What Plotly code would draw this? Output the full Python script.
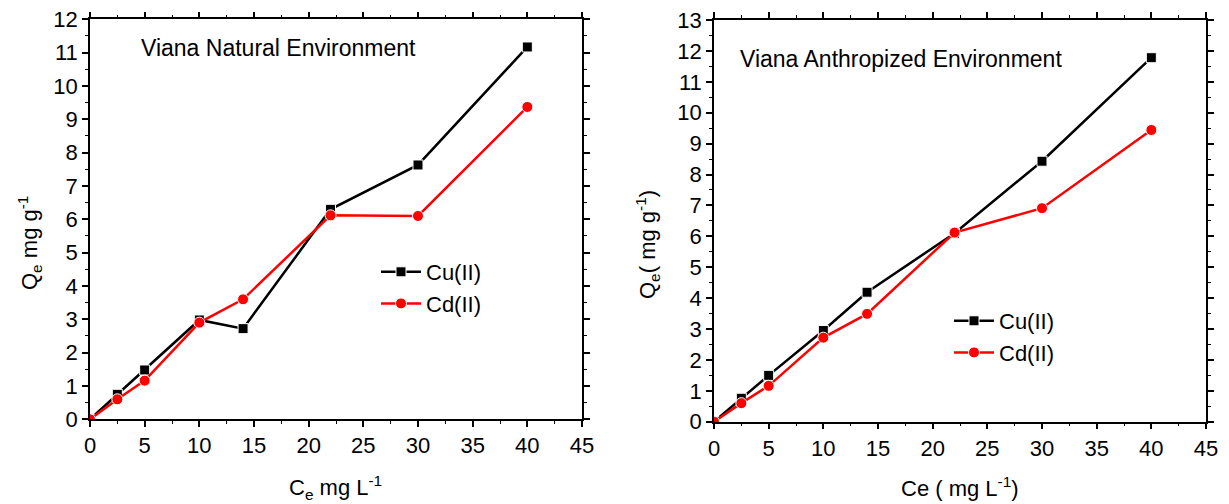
import plotly.graph_objects as go

ce = [0, 2.5, 5, 10, 14, 22, 30, 40]
nat_cu = [0, 0.75, 1.48, 2.98, 2.72, 6.30, 7.63, 11.17]
nat_cd = [0, 0.60, 1.16, 2.90, 3.60, 6.12, 6.10, 9.37]
ant_cu = [0, 0.76, 1.50, 2.95, 4.19, 6.10, 8.43, 11.78]
ant_cd = [0, 0.60, 1.16, 2.72, 3.49, 6.12, 6.91, 9.44]

FONT = "Liberation Sans, Arial, sans-serif"
BLACK = "#000000"
RED = "#ff0000"

fig = go.Figure()

def add(x, y, name, color, symbol, size, xa, ya, legend):
    fig.add_trace(go.Scatter(
        x=x, y=y, name=name, mode="lines+markers",
        line=dict(color=color, width=2.5),
        marker=dict(symbol=symbol, size=size, color=color, line=dict(color="white", width=1)),
        xaxis=xa, yaxis=ya, legend=legend,
    ))

add(ce, nat_cu, "Cu(II)", BLACK, "square", 10, "x", "y", "legend")
add(ce, nat_cd, "Cd(II)", RED, "circle", 11, "x", "y", "legend")
add(ce, ant_cu, "Cu(II)", BLACK, "square", 10, "x2", "y2", "legend2")
add(ce, ant_cd, "Cd(II)", RED, "circle", 11, "x2", "y2", "legend2")

L, R, T, B = 90, 23, 19, 82
W, H = 1229, 504
pw = W - L - R
ph = H - T - B

def px_x(p):
    return (p - L) / pw

def px_y(p):
    return (H - B - p) / ph

common_x = dict(
    range=[0, 45], dtick=5, tick0=0, showgrid=False, zeroline=False, automargin=False,
    showline=True, linecolor=BLACK, linewidth=1.5, mirror="allticks",
    ticks="outside", ticklen=6, tickwidth=1.5, tickcolor=BLACK,
    minor=dict(dtick=2.5, ticks="outside", ticklen=3, tickwidth=1.2, tickcolor=BLACK),
    tickfont=dict(family=FONT, size=22, color=BLACK),
)
common_y = dict(
    dtick=1, tick0=0, showgrid=False, zeroline=False, automargin=False,
    showline=True, linecolor=BLACK, linewidth=1.5, mirror="allticks",
    ticks="outside", ticklen=6, tickwidth=1.5, tickcolor=BLACK,
    minor=dict(dtick=0.5, ticks="outside", ticklen=3, tickwidth=1.2, tickcolor=BLACK),
    tickfont=dict(family=FONT, size=22, color=BLACK),
)

tfont = dict(family=FONT, size=22, color=BLACK)

def ann(text, x, y, angle=0, xanchor="center", size=22):
    return dict(text=text, xref="paper", yref="paper", x=px_x(x), y=px_y(y),
                xanchor=xanchor, yanchor="middle", showarrow=False, textangle=angle,
                font=dict(family=FONT, size=size, color=BLACK))

fig.update_layout(
    width=W, height=H,
    margin=dict(l=L, r=R, t=T, b=B, autoexpand=False),
    paper_bgcolor="white", plot_bgcolor="white",
    font=dict(family=FONT, color=BLACK),
    xaxis=dict(common_x, domain=[0, px_x(582)], anchor="y"),
    yaxis=dict(common_y, domain=[px_y(419.3), px_y(19.3)], anchor="x", range=[0, 12]),
    xaxis2=dict(common_x, domain=[px_x(714), 1], anchor="y2"),
    yaxis2=dict(common_y, domain=[px_y(421.7), px_y(20)], anchor="x2", range=[0, 13]),
    legend=dict(x=px_x(376), y=px_y(251), xanchor="left", yanchor="top",
                font=tfont, bgcolor="rgba(0,0,0,0)",
                tracegroupgap=0, itemwidth=40),
    legend2=dict(x=px_x(949), y=px_y(300), xanchor="left", yanchor="top",
                 font=tfont, bgcolor="rgba(0,0,0,0)",
                 tracegroupgap=0, itemwidth=40),
    showlegend=True,
    annotations=[
        ann("Viana Natural Environment", 139, 48, xanchor="left", size=23),
        ann("Viana Anthropized Environment", 738, 59, xanchor="left", size=23),
        ann("C<sub>e</sub> mg L<sup>-1</sup>", 335, 487),
        ann("Ce ( mg L<sup>-1</sup>)", 960, 487),
        ann("Q<sub>e</sub> mg g<sup>-1</sup>", 29, 243, angle=-90),
        ann("Q<sub>e</sub>( mg g<sup>-1</sup>)", 648, 245, angle=-90),
    ],
)

fig.write_html(
    "out.html",
    config={"displayModeBar": False},
    post_script="document.body.style.margin='0';document.body.style.overflow='hidden';",
)
